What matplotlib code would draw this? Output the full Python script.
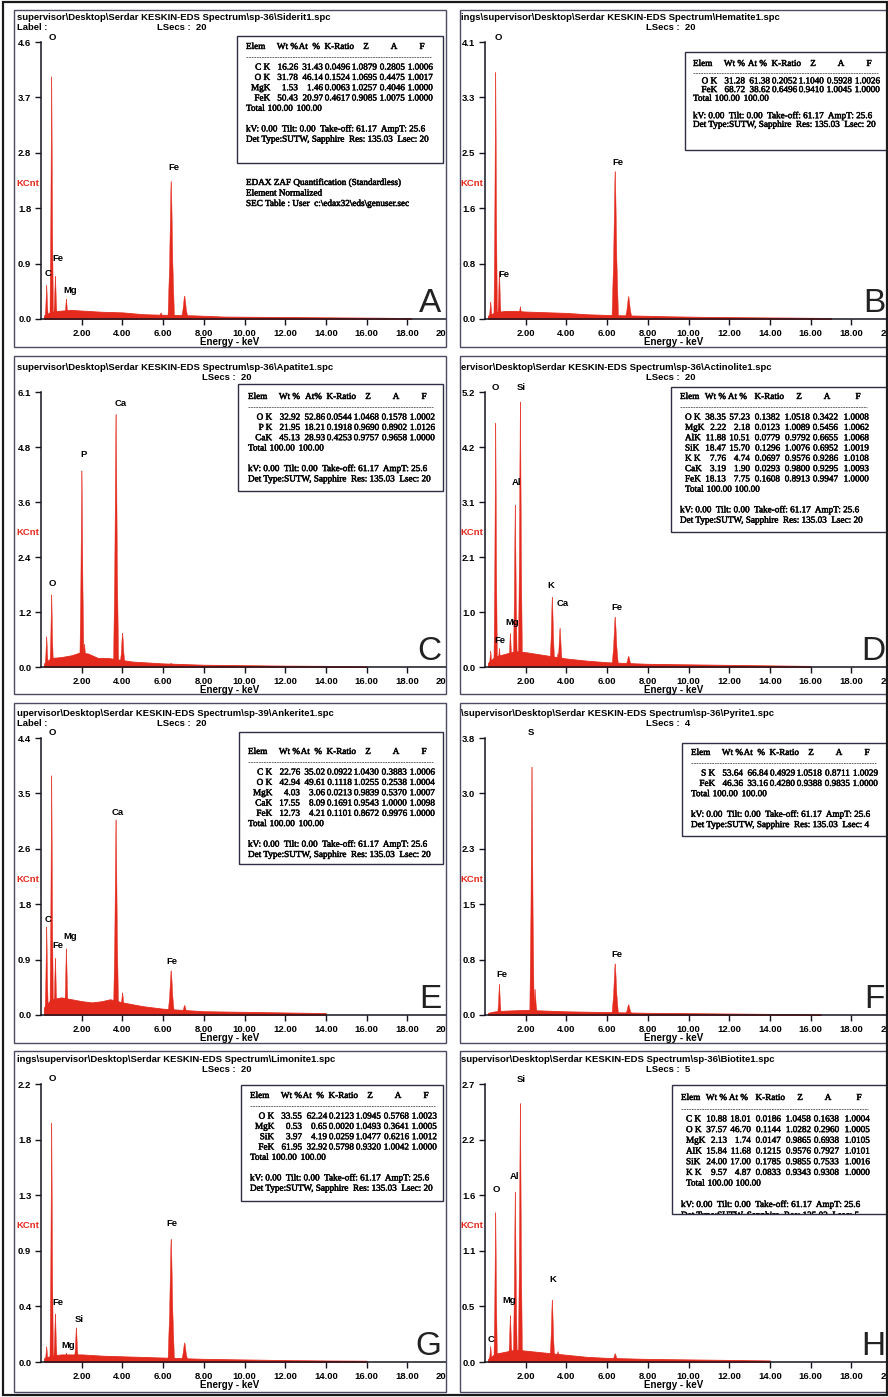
import matplotlib
matplotlib.use("Agg")
import matplotlib.pyplot as plt
import numpy as np
import matplotlib.patheffects as pe
from matplotlib.patches import Rectangle
from matplotlib.lines import Line2D
from matplotlib.transforms import Affine2D, Bbox

# ---------------- data ----------------
XTICKS = [2, 4, 6, 8, 10, 12, 14, 16, 18, 20]
XTICK_LABELS = ["2.00", "4.00", "6.00", "8.00", "10.00", "12.00", "14.00", "16.00", "18.00", "20.00"]

# A - siderite
A_path = r"supervisor\Desktop\Serdar KESKIN-EDS Spectrum\sp-36\Siderit1.spc"
A_lsec = "20"
A_ymax = 4.6
A_ylab = ["0.0", "0.9", "1.8", "2.8", "3.7", "4.6"]
A_pk_e = [0.28, 0.525, 0.71, 1.25, 5.90, 6.40, 7.06]
A_pk_h = [0.56, 4.02, 0.71, 0.33, 0.10, 2.28, 0.38]
A_bg_e = [0.15, 0.5, 1.0, 1.5, 2.0, 3.0, 4.0, 5.0, 6.0, 7.5, 9.0, 11.0, 13.0, 15.0, 17.0, 18.2]
A_bg_v = [0.06, 0.12, 0.14, 0.15, 0.14, 0.12, 0.11, 0.08, 0.07, 0.06, 0.04, 0.035, 0.03, 0.025, 0.02, 0.015]
A_lb_t = ["O", "Fe", "Fe", "C", "Mg"]
A_lb_e = [0.56, 6.54, 0.84, 0.37, 1.42]
A_lb_v = [4.67, 2.51, 1.00, 0.75, 0.48]
A_elem = ["C K", "O K", "MgK", "FeK"]
A_wt = [16.26, 31.78, 1.53, 50.43]
A_at = [31.43, 46.14, 1.46, 20.97]
A_kr = [0.0496, 0.1524, 0.0063, 0.4617]
A_z = [1.0879, 1.0695, 1.0257, 0.9085]
A_a = [0.2805, 0.4475, 0.4046, 1.0075]
A_f = [1.0006, 1.0017, 1.0000, 1.0000]
A_notes = ["EDAX ZAF Quantification (Standardless)", "Element Normalized",
           r"SEC Table : User  c:\edax32\eds\genuser.sec"]

# B - hematite
B_path = r"ings\supervisor\Desktop\Serdar KESKIN-EDS Spectrum\Hematite1.spc"
B_lsec = "20"
B_ymax = 4.1
B_ylab = ["0.0", "0.8", "1.6", "2.5", "3.3", "4.1"]
B_pk_e = [0.28, 0.525, 0.71, 1.74, 6.40, 7.06]
B_pk_h = [0.25, 3.65, 0.70, 0.18, 2.18, 0.33]
B_bg_e = [0.15, 0.5, 1.0, 1.5, 2.0, 3.0, 4.0, 5.0, 6.0, 7.5, 9.0, 11.0, 13.0, 15.0, 17.0]
B_bg_v = [0.05, 0.10, 0.12, 0.12, 0.11, 0.10, 0.09, 0.07, 0.06, 0.05, 0.04, 0.03, 0.025, 0.02, 0.015]
B_lb_t = ["O", "Fe", "Fe"]
B_lb_e = [0.65, 6.54, 0.95]
B_lb_v = [4.17, 2.31, 0.66]
B_elem = ["O K", "FeK"]
B_wt = [31.28, 68.72]
B_at = [61.38, 38.62]
B_kr = [0.2052, 0.6496]
B_z = [1.1040, 0.9410]
B_a = [0.5928, 1.0045]
B_f = [1.0026, 1.0000]

# C - apatite
C_path = r"supervisor\Desktop\Serdar KESKIN-EDS Spectrum\sp-36\Apatite1.spc"
C_lsec = "20"
C_ymax = 6.1
C_ylab = ["0.0", "1.2", "2.4", "3.6", "4.8", "6.1"]
C_pk_e = [0.28, 0.525, 2.01, 2.14, 3.69, 4.01, 6.40]
C_pk_h = [0.67, 1.60, 4.35, 0.50, 5.60, 0.75, 0.08]
C_bg_e = [0.15, 0.5, 1.0, 1.5, 1.9, 2.3, 2.8, 3.3, 4.5, 6.0, 8.0, 10.0, 12.0, 14.0, 16.0]
C_bg_v = [0.08, 0.20, 0.22, 0.26, 0.32, 0.30, 0.20, 0.20, 0.12, 0.08, 0.05, 0.04, 0.03, 0.025, 0.015]
C_lb_t = ["O", "P", "Ca"]
C_lb_e = [0.54, 2.10, 3.90]
C_lb_v = [1.86, 4.72, 5.85]
C_elem = ["O K", "P K", "CaK"]
C_wt = [32.92, 21.95, 45.13]
C_at = [52.86, 18.21, 28.93]
C_kr = [0.0544, 0.1918, 0.4253]
C_z = [1.0468, 0.9690, 0.9757]
C_a = [0.1578, 0.8902, 0.9658]
C_f = [1.0002, 1.0126, 1.0000]

# D - actinolite
D_path = r"ervisor\Desktop\Serdar KESKIN-EDS Spectrum\sp-36\Actinolite1.spc"
D_lsec = "20"
D_ymax = 5.2
D_ylab = ["0.0", "1.0", "2.1", "3.1", "4.2", "5.2"]
D_pk_e = [0.28, 0.525, 0.71, 1.25, 1.49, 1.74, 3.31, 3.59, 3.69, 4.01, 6.40, 7.06]
D_pk_h = [0.30, 4.61, 0.35, 0.63, 3.06, 5.01, 1.32, 0.25, 0.73, 0.15, 0.94, 0.20]
D_bg_e = [0.15, 0.5, 1.0, 1.5, 2.0, 2.5, 3.0, 4.0, 5.0, 6.0, 8.0, 10.0, 12.0, 14.0, 16.0]
D_bg_v = [0.08, 0.20, 0.25, 0.30, 0.28, 0.25, 0.22, 0.16, 0.12, 0.09, 0.06, 0.05, 0.04, 0.03, 0.02]
D_lb_t = ["O", "Si", "Al", "Mg", "Fe", "K", "Ca", "Fe"]
D_lb_e = [0.49, 1.78, 1.56, 1.35, 0.75, 3.24, 3.83, 6.50]
D_lb_v = [5.29, 5.29, 3.48, 0.85, 0.50, 1.55, 1.20, 1.13]
D_elem = ["O K", "MgK", "AlK", "SiK", "K K", "CaK", "FeK"]
D_wt = [38.35, 2.22, 11.88, 18.47, 7.76, 3.19, 18.13]
D_at = [57.23, 2.18, 10.51, 15.70, 4.74, 1.90, 7.75]
D_kr = [0.1382, 0.0123, 0.0779, 0.1296, 0.0697, 0.0293, 0.1608]
D_z = [1.0518, 1.0089, 0.9792, 1.0076, 0.9576, 0.9800, 0.8913]
D_a = [0.3422, 0.5456, 0.6655, 0.6952, 0.9286, 0.9295, 0.9947]
D_f = [1.0008, 1.0062, 1.0068, 1.0019, 1.0108, 1.0093, 1.0000]

# E - ankerite
E_path = r"upervisor\Desktop\Serdar KESKIN-EDS Spectrum\sp-39\Ankerite1.spc"
E_lsec = "20"
E_ymax = 4.4
E_ylab = ["0.0", "0.9", "1.8", "2.6", "3.5", "4.4"]
E_pk_e = [0.28, 0.525, 0.71, 1.25, 3.69, 4.01, 6.40, 7.06]
E_pk_h = [1.40, 3.80, 0.90, 1.05, 3.10, 0.35, 0.70, 0.15]
E_bg_e = [0.15, 0.5, 1.0, 1.5, 2.0, 2.5, 3.0, 3.4, 4.0, 5.0, 6.0, 7.0, 8.0, 10.0, 12.0, 14.0]
E_bg_v = [0.12, 0.25, 0.28, 0.25, 0.22, 0.20, 0.22, 0.25, 0.20, 0.14, 0.10, 0.08, 0.06, 0.05, 0.04, 0.03]
E_lb_t = ["O", "C", "Fe", "Mg", "Ca", "Fe"]
E_lb_e = [0.54, 0.34, 0.85, 1.45, 3.75, 6.44]
E_lb_v = [4.48, 1.52, 1.10, 1.25, 3.21, 0.85]
E_elem = ["C K", "O K", "MgK", "CaK", "FeK"]
E_wt = [22.76, 42.94, 4.03, 17.55, 12.73]
E_at = [35.02, 49.61, 3.06, 8.09, 4.21]
E_kr = [0.0922, 0.1118, 0.0213, 0.1691, 0.1101]
E_z = [1.0430, 1.0255, 0.9839, 0.9543, 0.8672]
E_a = [0.3883, 0.2538, 0.5370, 1.0000, 0.9976]
E_f = [1.0006, 1.0004, 1.0007, 1.0098, 1.0000]

# F - pyrite
F_path = r"\supervisor\Desktop\Serdar KESKIN-EDS Spectrum\sp-36\Pyrite1.spc"
F_lsec = "4"
F_ymax = 3.8
F_ylab = ["0.0", "0.8", "1.5", "2.3", "3.0", "3.8"]
F_pk_e = [0.71, 2.31, 2.46, 6.40, 7.06]
F_pk_h = [0.42, 3.40, 0.35, 0.70, 0.14]
F_bg_e = [0.15, 0.5, 1.0, 2.0, 3.0, 4.0, 5.0, 6.0, 8.0, 10.0, 12.0, 14.0, 16.5]
F_bg_v = [0.03, 0.05, 0.06, 0.07, 0.06, 0.05, 0.045, 0.04, 0.03, 0.025, 0.02, 0.015, 0.01]
F_lb_t = ["S", "Fe", "Fe"]
F_lb_e = [2.27, 6.50, 0.85]
F_lb_v = [3.87, 0.83, 0.55]
F_elem = ["S K", "FeK"]
F_wt = [53.64, 46.36]
F_at = [66.84, 33.16]
F_kr = [0.4929, 0.4280]
F_z = [1.0518, 0.9388]
F_a = [0.8711, 0.9835]
F_f = [1.0029, 1.0000]

# G - limonite
G_path = r"ings\supervisor\Desktop\Serdar KESKIN-EDS Spectrum\Limonite1.spc"
G_lsec = "20"
G_ymax = 2.2
G_ylab = ["0.0", "0.4", "0.9", "1.3", "1.8", "2.2"]
G_pk_e = [0.28, 0.525, 0.71, 1.25, 1.74, 6.40, 7.06]
G_pk_h = [0.12, 1.89, 0.38, 0.07, 0.27, 0.97, 0.15]
G_bg_e = [0.15, 0.5, 1.0, 2.0, 3.0, 4.0, 5.0, 6.0, 8.0, 10.0, 12.0, 14.0, 16.0]
G_bg_v = [0.03, 0.05, 0.06, 0.06, 0.05, 0.045, 0.04, 0.035, 0.025, 0.02, 0.015, 0.012, 0.01]
G_lb_t = ["O", "Fe", "Fe", "Si", "Mg"]
G_lb_e = [0.55, 6.44, 0.84, 1.90, 1.33]
G_lb_v = [2.24, 1.10, 0.47, 0.34, 0.13]
G_elem = ["O K", "MgK", "SiK", "FeK"]
G_wt = [33.55, 0.53, 3.97, 61.95]
G_at = [62.24, 0.65, 4.19, 32.92]
G_kr = [0.2123, 0.0020, 0.0259, 0.5798]
G_z = [1.0945, 1.0493, 1.0477, 0.9320]
G_a = [0.5768, 0.3641, 0.6216, 1.0042]
G_f = [1.0023, 1.0005, 1.0012, 1.0000]

# H - biotite
H_path = r"supervisor\Desktop\Serdar KESKIN-EDS Spectrum\sp-36\Biotite1.spc"
H_lsec = "5"
H_ymax = 2.7
H_ylab = ["0.0", "0.5", "1.1", "1.6", "2.2", "2.7"]
H_pk_e = [0.28, 0.525, 1.25, 1.49, 1.74, 3.31, 3.59, 6.40]
H_pk_h = [0.15, 1.45, 0.45, 1.65, 2.51, 0.60, 0.10, 0.08]
H_bg_e = [0.15, 0.5, 1.0, 1.5, 2.0, 3.0, 4.0, 5.0, 6.0, 8.0, 10.0, 12.0, 14.0]
H_bg_v = [0.03, 0.08, 0.10, 0.12, 0.11, 0.09, 0.07, 0.05, 0.04, 0.03, 0.025, 0.02, 0.015]
H_lb_t = ["O", "Al", "Si", "Mg", "K", "C"]
H_lb_e = [0.55, 1.45, 1.78, 1.20, 3.35, 0.30]
H_lb_v = [1.68, 1.80, 2.74, 0.60, 0.80, 0.22]
H_elem = ["C K", "O K", "MgK", "AlK", "SiK", "K K"]
H_wt = [10.88, 37.57, 2.13, 15.84, 24.00, 9.57]
H_at = [18.01, 46.70, 1.74, 11.68, 17.00, 4.87]
H_kr = [0.0186, 0.1144, 0.0147, 0.1215, 0.1785, 0.0833]
H_z = [1.0458, 1.0282, 0.9865, 0.9576, 0.9855, 0.9343]
H_a = [0.1638, 0.2960, 0.6938, 0.7927, 0.7533, 0.9308]
H_f = [1.0004, 1.0005, 1.0105, 1.0101, 1.0016, 1.0000]

KV_LINE = "kV: 0.00  Tilt: 0.00  Take-off: 61.17  AmpT: 25.6"
DET_LINE = "Det Type:SUTW, Sapphire  Res: 135.03  Lsec: "

# ---------------- layout ----------------
W, H = 888, 1397
fig = plt.figure(figsize=(W / 100, H / 100), dpi=100)
fig.patch.set_facecolor("white")
PX = Affine2D().scale(1 / W, -1 / H).translate(0, 1) + fig.transFigure

SANS = "Liberation Sans"
SERIF = "Liberation Serif"
RED = "#e42a1d"
FRAME = "#4b4b63"
TFS = 6.6
FS = 6.8
HEAVY = [pe.withStroke(linewidth=0.35, foreground="#111111")]

COL_X = [0, 444]
AX_TOP = [42, 392, 738, 1084]
AX_BOT = [319, 667, 1015, 1362]
FR_TOP = [10, 356, 703, 1051]
FR_BOT = [347, 694, 1043, 1392]
# column right edges, plus where the two "100.00" totals end
LAY1 = [52, 77, 104, 131, 159, 187]
LAY2 = [46, 70, 100, 130, 158, 189]
TOT1 = [47, 76]
TOT2 = [52, 80]
FMTS = ["%.2f", "%.2f", "%.4f", "%.4f", "%.4f", "%.4f"]

# peak outline shape (keV offsets / height fractions)
PROF_DX = [-0.16, -0.08, -0.035, -0.01, 0.01, 0.035, 0.08, 0.16]
PROF_FY = [0, 0.4, 0.8, 1, 1, 0.8, 0.4, 0]


def ptext(x, y, s, **kw):
    kw.setdefault("transform", PX)
    return fig.text(x, y, s, **kw)


def panel(col, row, letter, path, lsec, with_label, ymax, ylab,
          pk_e, pk_h, bg_e, bg_v, lb_t, lb_e, lb_v):
    cx = COL_X[col]
    top, bot = AX_TOP[row], AX_BOT[row]
    fl = cx + (14 if col == 0 else 16)
    fr = cx + 446 if col == 0 else 887
    fig.add_artist(Rectangle((fl, FR_TOP[row]), fr - fl, FR_BOT[row] - FR_TOP[row],
                             transform=PX, fill=False, ec=FRAME, lw=1.0, zorder=4))

    ax = fig.add_axes([(cx + 41) / W, 1 - bot / H, 407 / W, (bot - top) / H])
    ax.set_zorder(1 if col == 0 else 3)
    ax.patch.set_alpha(0)
    ax.set_xlim(0, 20)
    ax.set_ylim(0, ymax)
    for s in ("top", "right"):
        ax.spines[s].set_visible(False)
    for s in ("left", "bottom"):
        ax.spines[s].set_color("#15151f")
        ax.spines[s].set_linewidth(1.1)
    ax.set_xticks(XTICKS)
    ax.set_xticklabels(XTICK_LABELS)
    ax.set_yticks(np.linspace(0, ymax, 6))
    ax.set_yticklabels(ylab)
    ax.tick_params(direction="out", length=4, width=1, color="#15151f", pad=3)
    for t in ax.get_xticklabels() + ax.get_yticklabels():
        t.set_fontfamily(SANS)
        t.set_fontweight("bold")
        t.set_fontsize(FS)

    # spectrum
    ax.fill_between(bg_e, 0, bg_v, color=RED, lw=0.6, ec=RED)
    for e, h in zip(pk_e, pk_h):
        s = 0.5 + 0.08 * e
        ax.fill([e + s * d for d in PROF_DX], [h * f for f in PROF_FY], color=RED, lw=0.3)
    for t, e, v in zip(lb_t, lb_e, lb_v):
        ax.text(e, v, t, ha="center", va="center", fontsize=FS, fontweight="bold",
                family=SANS, clip_on=False)

    ptext(cx + 17, top - 25, path, fontsize=FS, fontweight="bold", family=SANS,
          va="center", zorder=6)
    if with_label:
        ptext(cx + 17, top - 14, "Label :", fontsize=FS, fontweight="bold", family=SANS,
              va="center", zorder=6)
        ptext(cx + 157, top - 14, "LSecs :  " + lsec, fontsize=FS, fontweight="bold",
              family=SANS, va="center", zorder=6)
    else:
        ptext(cx + 202, top - 14, "LSecs :  " + lsec, fontsize=FS, fontweight="bold",
              family=SANS, va="center", zorder=6)
    ptext(cx + 16, top + 0.51 * (bot - top), "KCnt", color=RED, fontsize=FS,
          fontweight="bold", family=SANS, va="center", zorder=6)
    ptext(cx + 230, bot + 23, "Energy - keV", fontsize=FS + 0.2, fontweight="bold",
          family=SANS, ha="center", va="center", zorder=6)
    ptext(cx + 441, bot - 7, letter, fontsize=24, family=SANS, ha="right",
          va="baseline", color="#222222", zorder=6)
    return ax


def table(x0, yh, lh, box, cols, tot, at_hdr, lsec, elem, wt, at, kr, z, a, f,
          elem_left=False, clip=False):
    bx0, by0, bx1, by1 = box
    fig.add_artist(Rectangle((bx0, by0), bx1 - bx0, by1 - by0, transform=PX,
                             fc="white", ec="#2e2e44", lw=1.0, zorder=5))
    kw = dict(family=SERIF, fontsize=TFS, va="center", zorder=6, path_effects=HEAVY)
    ptext(x0, yh, "Elem", ha="left", **kw)
    ptext(x0 + cols[0], yh, "Wt %", ha="right", **kw)
    ptext(x0 + cols[1] - 3, yh, at_hdr, ha="right", **kw)
    ptext(x0 + cols[2] + 4, yh, "K-Ratio", ha="right", **kw)
    for c, s in zip(cols[3:], "ZAF"):
        ptext(x0 + c - 11, yh, s, ha="center", **kw)
    fig.add_artist(Line2D([x0, x0 + cols[5] - 2], [yh + lh, yh + lh], transform=PX,
                          color="#555555", lw=0.6, ls=(0, (2.2, 0.9)), zorder=6))
    vals = [wt, at, kr, z, a, f]
    for i, el in enumerate(elem):
        y = yh + (2 + i) * lh
        if elem_left:
            ptext(x0 + 5, y, el, ha="left", **kw)
        else:
            ptext(x0 + 24, y, el, ha="right", **kw)
        for j in range(6):
            ptext(x0 + cols[j], y, FMTS[j] % vals[j][i], ha="right", **kw)
    yt = yh + (2 + len(elem)) * lh
    ptext(x0 + (5 if elem_left else 0), yt, "Total", ha="left", **kw)
    ptext(x0 + tot[0], yt, "100.00", ha="right", **kw)
    ptext(x0 + tot[1], yt, "100.00", ha="right", **kw)
    ptext(x0, yt + 2 * lh, KV_LINE, ha="left", **kw)
    t = ptext(x0, yt + 3 * lh, DET_LINE + lsec, ha="left", **kw)
    if clip:
        t.set_clip_on(True)
        t.set_clip_box(Bbox.from_extents(bx0, H - by1, bx1, H - by0))


panel(0, 0, "A", A_path, A_lsec, True, A_ymax, A_ylab, A_pk_e, A_pk_h, A_bg_e, A_bg_v,
      A_lb_t, A_lb_e, A_lb_v)
panel(1, 0, "B", B_path, B_lsec, False, B_ymax, B_ylab, B_pk_e, B_pk_h, B_bg_e, B_bg_v,
      B_lb_t, B_lb_e, B_lb_v)
panel(0, 1, "C", C_path, C_lsec, False, C_ymax, C_ylab, C_pk_e, C_pk_h, C_bg_e, C_bg_v,
      C_lb_t, C_lb_e, C_lb_v)
panel(1, 1, "D", D_path, D_lsec, False, D_ymax, D_ylab, D_pk_e, D_pk_h, D_bg_e, D_bg_v,
      D_lb_t, D_lb_e, D_lb_v)
panel(0, 2, "E", E_path, E_lsec, True, E_ymax, E_ylab, E_pk_e, E_pk_h, E_bg_e, E_bg_v,
      E_lb_t, E_lb_e, E_lb_v)
panel(1, 2, "F", F_path, F_lsec, False, F_ymax, F_ylab, F_pk_e, F_pk_h, F_bg_e, F_bg_v,
      F_lb_t, F_lb_e, F_lb_v)
panel(0, 3, "G", G_path, G_lsec, False, G_ymax, G_ylab, G_pk_e, G_pk_h, G_bg_e, G_bg_v,
      G_lb_t, G_lb_e, G_lb_v)
panel(1, 3, "H", H_path, H_lsec, False, H_ymax, H_ylab, H_pk_e, H_pk_h, H_bg_e, H_bg_v,
      H_lb_t, H_lb_e, H_lb_v)

table(246, 47, 10.3, (237, 36, 443, 163), LAY1, TOT1, "At  %", A_lsec,
      A_elem, A_wt, A_at, A_kr, A_z, A_a, A_f)
for i, s in enumerate(A_notes):
    ptext(246, 183 + 10.5 * i, s, family=SERIF, fontsize=TFS, va="center", zorder=6,
          path_effects=HEAVY)
table(693, 64, 8.7, (685, 52, 900, 150), LAY1, TOT1, "At %", B_lsec,
      B_elem, B_wt, B_at, B_kr, B_z, B_a, B_f)
table(248, 397, 10.3, (238, 384, 443, 491), LAY1, TOT1, "At%", C_lsec,
      C_elem, C_wt, C_at, C_kr, C_z, C_a, C_f)
table(680, 397, 10.3, (671, 387, 900, 532), LAY2, TOT2, "At %", D_lsec,
      D_elem, D_wt, D_at, D_kr, D_z, D_a, D_f, elem_left=True)
table(248, 752, 10.3, (239, 732, 443, 864), LAY1, TOT1, "At  %", E_lsec,
      E_elem, E_wt, E_at, E_kr, E_z, E_a, E_f)
table(691, 753, 10.3, (682, 743, 900, 836), LAY1, TOT1, "At  %", F_lsec,
      F_elem, F_wt, F_at, F_kr, F_z, F_a, F_f)
table(250, 1096, 10.3, (241, 1085, 443, 1201), LAY1, TOT1, "At  %", G_lsec,
      G_elem, G_wt, G_at, G_kr, G_z, G_a, G_f)
table(681, 1098, 10.7, (672, 1085, 900, 1214), LAY2, TOT2, "At %", H_lsec,
      H_elem, H_wt, H_at, H_kr, H_z, H_a, H_f, elem_left=True, clip=True)

# gap between the two columns hides the overflowing left axes
fig.add_artist(Rectangle((447, 0), 12.5, H, transform=PX, fc="white", ec="none", zorder=2))
# outer border
fig.add_artist(Rectangle((3, 2), 884, 1393, transform=PX, fill=False, ec="#1a1a1a",
                         lw=1.6, zorder=7))

fig.savefig("out.png", dpi=100, facecolor="white")
